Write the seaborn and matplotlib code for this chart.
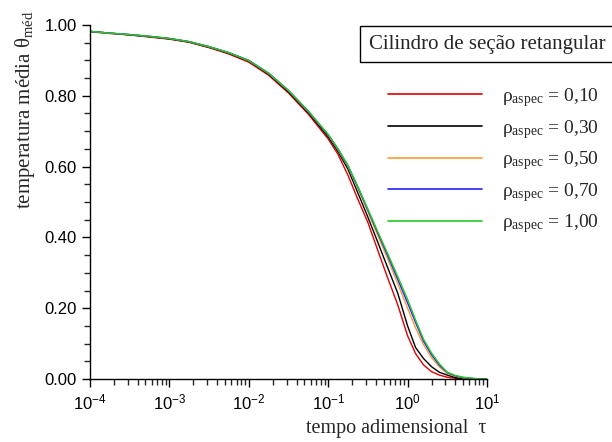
import numpy as np
import pandas as pd
import matplotlib.pyplot as plt
import matplotlib.ticker as mticker
import seaborn as sns

# tempo adimensional (log10 tau) where the curves were read
log_tau = [-4, -3.75, -3.5, -3.25, -3, -2.75, -2.5, -2.25, -2, -1.75, -1.5, -1.25,
           -1, -0.875, -0.75, -0.625, -0.5, -0.375, -0.25, -0.125,
           0, 0.1, 0.2, 0.3, 0.4, 0.5, 0.6, 0.7, 0.85, 1]

# temperatura media for each aspect ratio
theta_010 = [0.981, 0.976, 0.972, 0.966, 0.960, 0.951, 0.936, 0.918, 0.895, 0.858, 0.808, 0.748,
             0.678, 0.634, 0.575, 0.507, 0.442, 0.363, 0.285, 0.210,
             0.122, 0.072, 0.040, 0.021, 0.011, 0.005, 0.002, 0.0, 0.0, 0.0]
theta_030 = [0.982, 0.977, 0.972, 0.967, 0.961, 0.952, 0.937, 0.920, 0.898, 0.861, 0.811, 0.752,
             0.684, 0.642, 0.592, 0.525, 0.457, 0.386, 0.314, 0.243,
             0.150, 0.089, 0.058, 0.035, 0.019, 0.011, 0.004, 0.001, 0.0, 0.0]
theta_050 = [0.982, 0.977, 0.973, 0.968, 0.962, 0.953, 0.938, 0.921, 0.899, 0.863, 0.814, 0.755,
             0.689, 0.647, 0.600, 0.537, 0.472, 0.405, 0.339, 0.270,
             0.200, 0.145, 0.097, 0.061, 0.034, 0.016, 0.008, 0.003, 0.0005, 0.0]
theta_070 = [0.982, 0.977, 0.973, 0.968, 0.962, 0.953, 0.939, 0.922, 0.900, 0.864, 0.815, 0.756,
             0.690, 0.649, 0.602, 0.541, 0.477, 0.412, 0.348, 0.282,
             0.215, 0.160, 0.107, 0.069, 0.039, 0.018, 0.009, 0.004, 0.001, 0.0]
theta_100 = [0.982, 0.977, 0.973, 0.968, 0.962, 0.953, 0.939, 0.922, 0.900, 0.864, 0.815, 0.757,
             0.691, 0.650, 0.603, 0.543, 0.480, 0.416, 0.354, 0.290,
             0.225, 0.167, 0.113, 0.074, 0.043, 0.019, 0.010, 0.005, 0.001, 0.0]

labels = ["0,10", "0,30", "0,50", "0,70", "1,00"]
colors = ["#e00000", "#000000", "#ff9933", "#2222ff", "#22cc22"]

series = [theta_010, theta_030, theta_050, theta_070, theta_100]
rows = []
for lab, ys in zip(labels, series):
    for lt, y in zip(log_tau, ys):
        rows.append({"tau": 10 ** lt, "theta": y,
                     "serie": "ρ$_{\\mathrm{aspec}}$ = " + lab})
df = pd.DataFrame(rows)

sns.set_style("ticks")
plt.rcParams["font.family"] = ["Liberation Sans", "DejaVu Sans"]
plt.rcParams["mathtext.fontset"] = "custom"
plt.rcParams["mathtext.rm"] = "Liberation Serif"
plt.rcParams["mathtext.it"] = "Liberation Serif:italic"

fig = plt.figure(figsize=(6.12, 4.42), dpi=100)
ax = fig.add_axes([90 / 612, 1 - 379 / 442, 397 / 612, 354 / 442])

sns.lineplot(data=df, x="tau", y="theta", hue="serie", palette=colors,
             linewidth=1.0, ax=ax, sort=False)

ax.set_xscale("log")
ax.set_xlim(1e-4, 10)
ax.set_ylim(0, 1.0)
ax.yaxis.set_major_locator(mticker.MultipleLocator(0.2))
ax.yaxis.set_minor_locator(mticker.MultipleLocator(0.05))
ax.yaxis.set_major_formatter(mticker.FormatStrFormatter("%.2f"))
ax.xaxis.set_major_locator(mticker.LogLocator(base=10, numticks=10))
ax.xaxis.set_minor_locator(mticker.LogLocator(base=10, subs=np.arange(2, 10), numticks=20))
ax.xaxis.set_minor_formatter(mticker.NullFormatter())

ax.tick_params(which="major", direction="out", length=6, width=1, labelsize=12, colors="black")
ax.tick_params(which="minor", direction="out", length=4, width=1)
sns.despine(ax=ax)
for s in ["left", "bottom"]:
    ax.spines[s].set_linewidth(1.0)
    ax.spines[s].set_color("black")

ax.set_xlabel("")
ax.set_ylabel("")
fig.text(486 / 612, 1 - 428 / 442, "tempo adimensional  τ", ha="right", va="center",
         fontsize=14.5, fontfamily="Liberation Serif")
fig.text(25 / 612, 1 - 11 / 442, "temperatura média θ$_{\\mathrm{méd}}$", rotation=90,
         ha="center", va="top", fontsize=15, fontfamily="Liberation Serif")

fig.text(487 / 612, 1 - 44 / 442, "Cilindro de seção retangular", ha="center", va="center",
         fontsize=15, fontfamily="Liberation Serif",
         bbox=dict(boxstyle="square,pad=0.4", fc="white", ec="black", lw=1))

leg = ax.legend(loc="upper left", bbox_to_anchor=(388 / 612, 1 - 86 / 442),
                bbox_transform=fig.transFigure, frameon=False, borderpad=0,
                borderaxespad=0, handlelength=4.85, handletextpad=1.0,
                labelspacing=0.45, prop={"family": "Liberation Serif", "size": 14})
for line in leg.get_lines():
    line.set_linewidth(1.2)

fig.savefig("out.png", dpi=100)
